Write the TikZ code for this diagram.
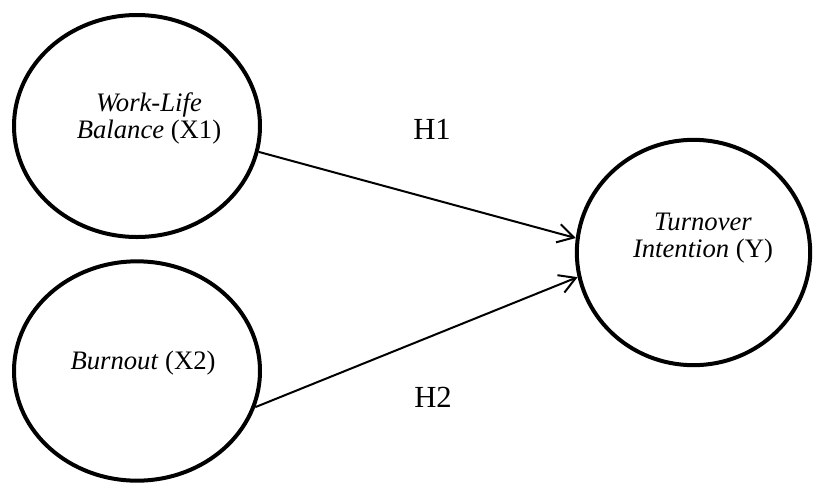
\documentclass[tikz,border=0pt]{standalone}
\usepackage{fontspec}
\setmainfont{Liberation Serif}
\usetikzlibrary{shapes.geometric,arrows.meta}

\begin{document}
\begin{tikzpicture}[x=0.75pt,y=-0.75pt]

    \tikzset{
      var/.style={
        draw,
        ellipse,
        line width=3pt,
        inner sep=0pt,
      },
      vartext/.style={
        align=center,
        font=\fontsize{20}{20.25}\selectfont,
      },
      hyp/.style={
        line width=1.5pt,
        -{Straight Barb[length=12pt,width=14pt,line width=1.5pt]},
      },
      hyplabel/.style={
        font=\fontsize{23}{27}\selectfont,
      },
    }
    \useasboundingbox (0,0) rectangle (816,486);
	\node[var, minimum width=184.5pt, minimum height=166.5pt] (wlb) at (137,126) {};
	\node[var, minimum width=184.5pt, minimum height=164.5pt] (burn) at (137,371) {};
	\node[var, minimum width=175pt, minimum height=169pt] (ti) at (693.5,252.5) {};
	\node[vartext] (wlbtext) at (149,118.5) {\textit{Work-Life}\\\textit{Balance} (X1)};
	\node[vartext] (burntext) at (143,363) {\textit{Burnout} (X2)};
	\node[vartext] (titext) at (703,238) {\textit{Turnover}\\\textit{Intention} (Y)};
\draw[hyp] (wlb.-12) -- (ti.173);
\draw[hyp] (burn.-17) -- (ti.-168);
\node[hyplabel] (h1) at (432,129) {H1};
\node[hyplabel] (h2) at (433,397) {H2};


\end{tikzpicture}
\end{document}
